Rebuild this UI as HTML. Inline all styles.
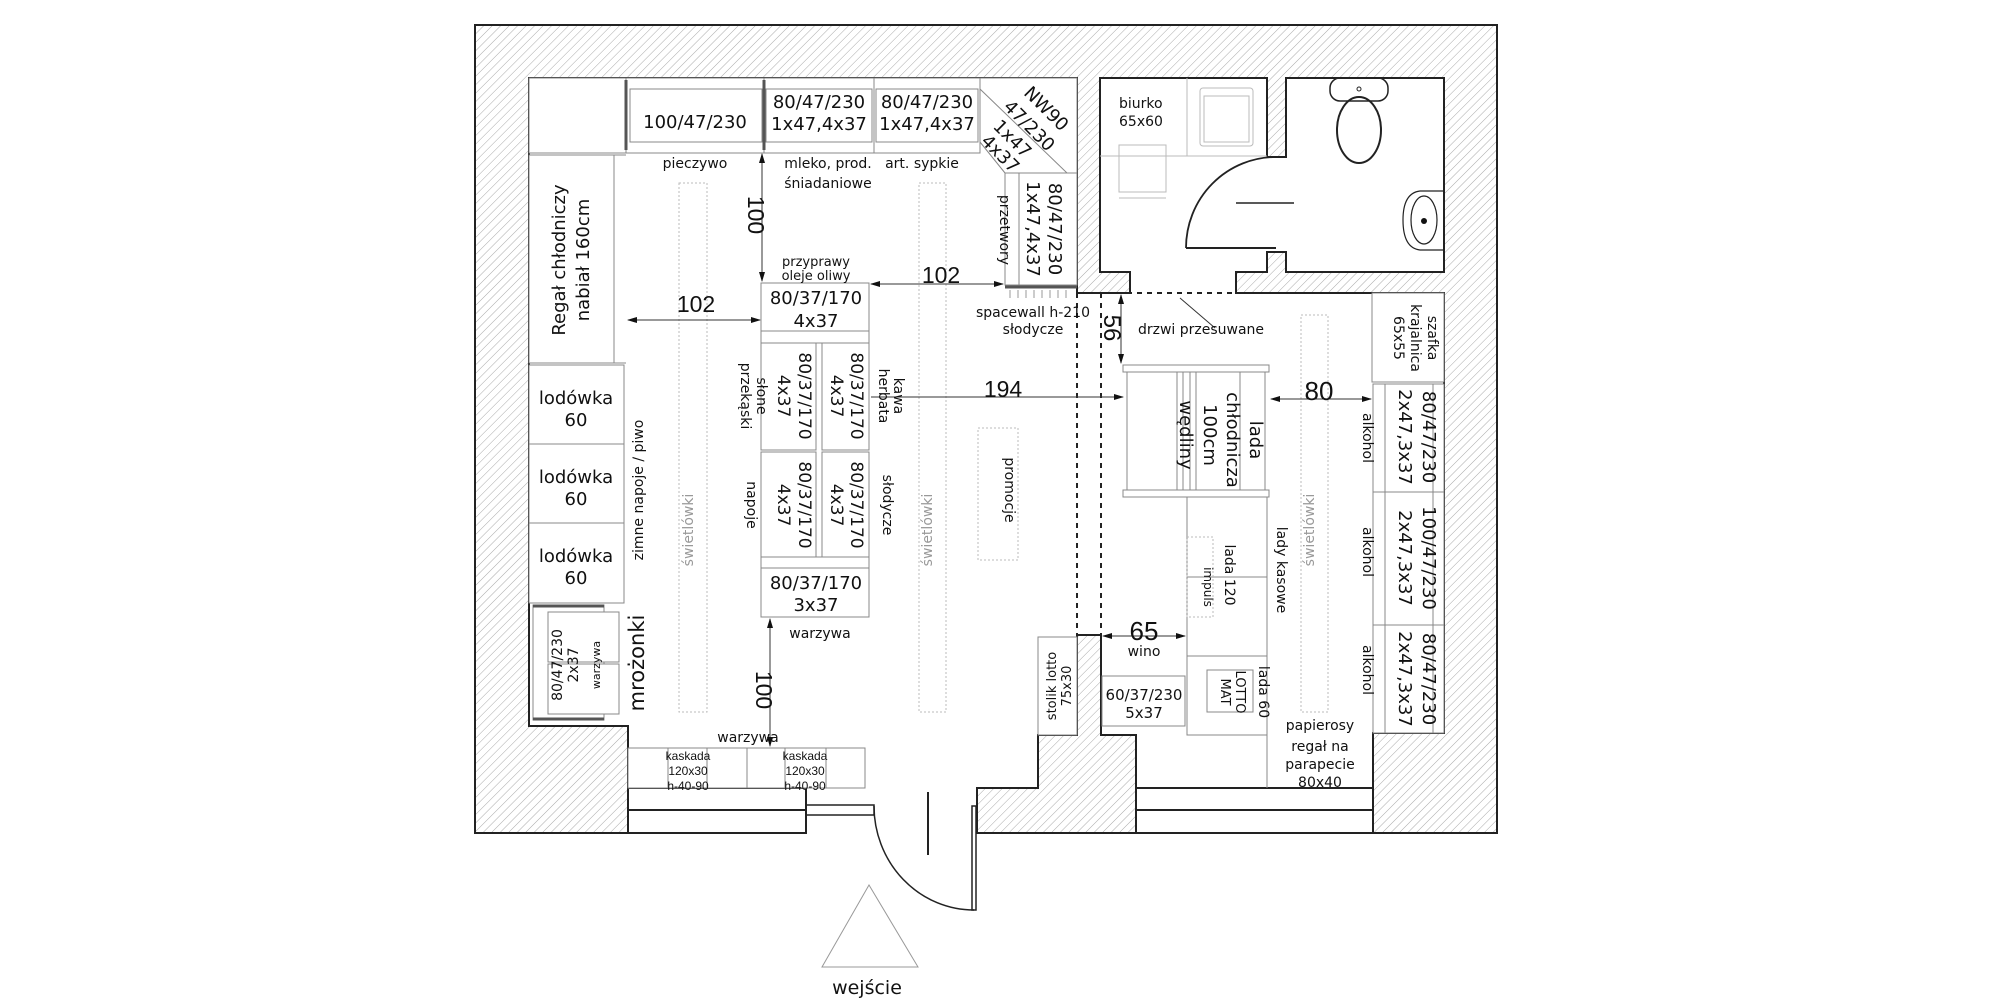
<!DOCTYPE html>
<html><head><meta charset="utf-8"><style>
html,body{margin:0;padding:0;background:#fff;}
svg{display:block;}
text{font-family:"DejaVu Sans","Liberation Sans",sans-serif;fill:#111;}
.d{font-family:"Liberation Sans",sans-serif;}
.g{fill:#999;}
</style></head><body>
<svg width="2000" height="1000" viewBox="0 0 2000 1000" xmlns="http://www.w3.org/2000/svg">
<defs>
<pattern id="h" width="6" height="6" patternUnits="userSpaceOnUse" patternTransform="rotate(45)">
<rect width="6" height="6" fill="#fff"/><line x1="0" y1="0" x2="0" y2="6" stroke="#aaa" stroke-width="1"/>
</pattern>
<marker id="a" markerWidth="10" markerHeight="6" refX="9" refY="3" orient="auto" markerUnits="userSpaceOnUse"><path d="M0,0 L10,3 L0,6 Z" fill="#111"/></marker>
<marker id="b" markerWidth="10" markerHeight="6" refX="1" refY="3" orient="auto" markerUnits="userSpaceOnUse"><path d="M10,0 L0,3 L10,6 Z" fill="#111"/></marker>
</defs>
<rect x="475" y="25" width="1022" height="808" fill="url(#h)" stroke="#222" stroke-width="2"/>
<path d="M529,78 L1077,78 L1077,293 L1130,293 L1130,272 L1100,272 L1100,78 L1267,78 L1267,157 L1286,157 L1286,78 L1444,78 L1444,272 L1286,272 L1286,252 L1267,252 L1267,272 L1236,272 L1236,293 L1444,293 L1444,733 L1373,733 L1373,833 L1136,833 L1136,735 L1101,735 L1101,635 L1077,635 L1077,735 L1038,735 L1038,788 L977,788 L977,833 L628,833 L628,726 L529,726 Z" fill="#fff" stroke="#222" stroke-width="2"/>
<rect x="807" y="786" width="169" height="60" fill="#fff"/>
<line x1="475" y1="833" x2="628" y2="833" stroke="#222" stroke-width="2"/>
<g stroke="#222" stroke-width="2" fill="none">
<line x1="628" y1="788" x2="806" y2="788"/><line x1="628" y1="810" x2="806" y2="810"/>
<line x1="1136" y1="788" x2="1373" y2="788"/><line x1="1136" y1="810" x2="1373" y2="810"/>
<line x1="806" y1="788" x2="806" y2="833"/>
<rect x="806" y="805" width="68" height="10" stroke-width="1.5"/>
<line x1="928" y1="792" x2="928" y2="855"/>
<rect x="972" y="806" width="4" height="104" stroke-width="1.5"/>
<path d="M874,806 A100,104 0 0 0 974,910" stroke-width="1.5"/>
<line x1="977" y1="788" x2="977" y2="833"/>
</g>
<polygon points="869,885 822,967 918,967" fill="none" stroke="#999" stroke-width="1"/>
<text x="867" y="994" font-size="19" text-anchor="middle">wejście</text>
<g stroke="#222" fill="none">
<path d="M1186,248 A90,91 0 0 1 1276,157" stroke-width="1.8"/>
<line x1="1186" y1="248" x2="1276" y2="248" stroke-width="2"/>
<line x1="1236" y1="203" x2="1294" y2="203" stroke-width="1.5"/>
<rect x="1330" y="78" width="58" height="23" rx="10" stroke-width="1.5"/>
<ellipse cx="1359" cy="130" rx="22" ry="33" stroke-width="2"/>
<circle cx="1359" cy="89" r="2"/>
<path d="M1444,191 L1420,191 Q1403,193 1403,220 Q1403,248 1420,250 L1444,250" stroke-width="1.2"/>
<ellipse cx="1424" cy="220" rx="13" ry="24" stroke-width="1.2"/>
</g>
<circle cx="1424" cy="221" r="3" fill="#111"/>
<g stroke="#bbb" fill="none" stroke-width="1">
<line x1="1187" y1="78" x2="1187" y2="156"/><line x1="1100" y1="156" x2="1267" y2="156"/>
<rect x="1200" y="88" width="53" height="58" rx="3"/><rect x="1204" y="96" width="45" height="46"/>
<rect x="1119" y="145" width="47" height="47"/><line x1="1119" y1="198" x2="1166" y2="198"/>
</g>
<text x="1119" y="108" font-size="14">biurko</text>
<text x="1119" y="126" font-size="14">65x60</text>
<g stroke="#222" stroke-width="2" stroke-dasharray="5,5" fill="none">
<line x1="1077" y1="293" x2="1236" y2="293"/>
<line x1="1077" y1="293" x2="1077" y2="635"/>
<line x1="1101" y1="293" x2="1101" y2="635"/>
</g>
<g stroke="#888" stroke-width="1" fill="#fff">
<rect x="529" y="78" width="97" height="75"/>
<rect x="626" y="78" width="138" height="75"/><rect x="630" y="89" width="132" height="53"/>
<rect x="764" y="78" width="110" height="75"/><rect x="766" y="89" width="106" height="53"/>
<rect x="874" y="78" width="106" height="75"/><rect x="876" y="89" width="102" height="53"/>
<path d="M980,78 L1077,78 L1077,173 L1067,173 L980,89 Z"/>
<line x1="980" y1="142" x2="1005" y2="173"/>
<rect x="1005" y="173" width="72" height="112"/><line x1="1019" y1="173" x2="1019" y2="285"/>
<rect x="529" y="155" width="85" height="208"/><line x1="614" y1="155" x2="626" y2="155"/><line x1="614" y1="363" x2="626" y2="363"/>
<rect x="529" y="365" width="95" height="79"/><rect x="529" y="444" width="95" height="79"/><rect x="529" y="523" width="95" height="80"/>
<rect x="533" y="605" width="71" height="115"/><rect x="548" y="612" width="71" height="50"/><rect x="548" y="664" width="71" height="50"/>
<rect x="761" y="283" width="108" height="48"/><rect x="761" y="331" width="108" height="12"/>
<rect x="761" y="343" width="55" height="107"/><rect x="822" y="343" width="47" height="107"/>
<rect x="761" y="452" width="55" height="105"/><rect x="822" y="452" width="47" height="105"/>
<rect x="761" y="557" width="108" height="11"/><rect x="761" y="568" width="108" height="49"/>
<rect x="628" y="748" width="119" height="40"/><rect x="747" y="748" width="118" height="40"/>
<line x1="668" y1="748" x2="668" y2="788"/><line x1="707" y1="748" x2="707" y2="788"/>
<line x1="785" y1="748" x2="785" y2="788"/><line x1="826" y1="748" x2="826" y2="788"/>
<rect x="1038" y="637" width="39" height="98"/>
<rect x="1123" y="365" width="146" height="7"/><rect x="1127" y="372" width="138" height="118"/><rect x="1123" y="490" width="146" height="7"/>
<line x1="1177" y1="372" x2="1177" y2="490"/><line x1="1183" y1="372" x2="1183" y2="490"/><line x1="1190" y1="372" x2="1190" y2="490"/><line x1="1196" y1="372" x2="1196" y2="490"/><line x1="1240" y1="372" x2="1240" y2="490"/>
<rect x="1372" y="293" width="72" height="89"/>
<rect x="1373" y="384" width="71" height="108"/><rect x="1373" y="492" width="71" height="133"/><rect x="1373" y="625" width="71" height="108"/>
<line x1="1385" y1="384" x2="1385" y2="733"/><line x1="1433" y1="384" x2="1433" y2="733"/>
<rect x="1187" y="497" width="80" height="238"/><line x1="1187" y1="577" x2="1267" y2="577"/><line x1="1187" y1="656" x2="1267" y2="656"/>
<rect x="1207" y="670" width="46" height="42"/>
<rect x="1102" y="676" width="83" height="50"/>
<line x1="1267" y1="735" x2="1267" y2="788"/>
</g>
<g stroke="#555" stroke-width="3"><line x1="626" y1="80" x2="626" y2="150"/><line x1="764" y1="80" x2="764" y2="150"/><line x1="1005" y1="287" x2="1077" y2="287"/><line x1="533" y1="606" x2="604" y2="606"/><line x1="533" y1="719" x2="604" y2="719"/></g>
<g stroke="#999" stroke-width="1"><path d="M1010,290v8M1018,290v8M1026,290v8M1034,290v8M1042,290v8M1050,290v8M1058,290v8M1066,290v8"/></g>
<g stroke="#bbb" stroke-width="1" stroke-dasharray="2,2" fill="none">
<rect x="679" y="183" width="28" height="529"/><rect x="919" y="183" width="27" height="529"/>
<rect x="978" y="428" width="40" height="132"/><rect x="1301" y="315" width="27" height="397"/>
<rect x="1187" y="537" width="26" height="80"/>
</g>
<g stroke="#333" stroke-width="1">
<line x1="762" y1="154" x2="762" y2="281" marker-start="url(#b)" marker-end="url(#a)"/>
<line x1="628" y1="320" x2="760" y2="320" marker-start="url(#b)" marker-end="url(#a)"/>
<line x1="871" y1="284" x2="1003" y2="284" marker-start="url(#b)" marker-end="url(#a)"/>
<line x1="871" y1="397" x2="1123" y2="397" marker-end="url(#a)"/>
<line x1="770" y1="619" x2="770" y2="746" marker-start="url(#b)" marker-end="url(#a)"/>
<line x1="1121" y1="295" x2="1121" y2="363" marker-start="url(#b)" marker-end="url(#a)"/>
<line x1="1271" y1="399" x2="1371" y2="399" marker-start="url(#b)" marker-end="url(#a)"/>
<line x1="1103" y1="636" x2="1185" y2="636" marker-start="url(#b)" marker-end="url(#a)"/>
<line x1="1180" y1="298" x2="1215" y2="328"/>
</g>
<g class="d" font-size="23">
<text class="d" x="696" y="312" text-anchor="middle">102</text>
<text class="d" x="941" y="283" text-anchor="middle">102</text>
<text class="d" x="1003" y="397" text-anchor="middle">194</text>
<text class="d" x="1319" y="400" text-anchor="middle" font-size="26">80</text>
<text class="d" x="1144" y="640" text-anchor="middle" font-size="26">65</text>
<text class="d" transform="translate(748,215) rotate(90)" text-anchor="middle">100</text>
<text class="d" transform="translate(756,690) rotate(90)" text-anchor="middle">100</text>
<text class="d" transform="translate(1104,328) rotate(90)" text-anchor="middle" font-size="24">56</text>
</g>
<g font-size="18" text-anchor="middle">
<text x="695" y="128">100/47/230</text>
<text x="819" y="108">80/47/230</text><text x="819" y="130">1x47,4x37</text>
<text x="927" y="108">80/47/230</text><text x="927" y="130">1x47,4x37</text>
<text transform="translate(1042,113) rotate(45)">NW90</text>
<text transform="translate(1025,130) rotate(45)">47/230</text>
<text transform="translate(1008,143) rotate(45)">1x47</text>
<text transform="translate(996,158) rotate(45)">4x37</text>
<text transform="translate(1049,229) rotate(90)">80/47/230</text>
<text transform="translate(1027,229) rotate(90)">1x47,4x37</text>
<text transform="translate(565,260) rotate(-90)">Regał chłodniczy</text>
<text transform="translate(589,260) rotate(-90)">nabiał 160cm</text>
<text x="576" y="404">lodówka</text><text x="576" y="426">60</text>
<text x="576" y="483">lodówka</text><text x="576" y="505">60</text>
<text x="576" y="562">lodówka</text><text x="576" y="584">60</text>
<text transform="translate(644,663) rotate(-90)" font-size="21">mrożonki</text>
<text x="816" y="304">80/37/170</text><text x="816" y="327">4x37</text>
<g font-size="17">
<text transform="translate(799,396) rotate(90)">80/37/170</text><text transform="translate(778,396) rotate(90)">4x37</text>
<text transform="translate(851,396) rotate(90)">80/37/170</text><text transform="translate(831,396) rotate(90)">4x37</text>
<text transform="translate(799,505) rotate(90)">80/37/170</text><text transform="translate(778,505) rotate(90)">4x37</text>
<text transform="translate(851,505) rotate(90)">80/37/170</text><text transform="translate(831,505) rotate(90)">4x37</text>
</g>
<text x="816" y="589">80/37/170</text><text x="816" y="611">3x37</text>
<text transform="translate(1250,440) rotate(90)">lada</text>
<text transform="translate(1227,440) rotate(90)">chłodnicza</text>
<text transform="translate(1204,435) rotate(90)">100cm</text>
<text transform="translate(1180,435) rotate(90)">wędliny</text>
<text transform="translate(1423,437) rotate(90)">80/47/230</text><text transform="translate(1399,437) rotate(90)">2x47,3x37</text>
<text transform="translate(1423,558) rotate(90)">100/47/230</text><text transform="translate(1399,558) rotate(90)">2x47,3x37</text>
<text transform="translate(1423,679) rotate(90)">80/47/230</text><text transform="translate(1399,679) rotate(90)">2x47,3x37</text>
</g>
<g font-size="14" text-anchor="middle">
<text x="695" y="168">pieczywo</text>
<text x="828" y="168">mleko, prod.</text><text x="828" y="188">śniadaniowe</text>
<text x="922" y="168">art. sypkie</text>
<text transform="translate(1000,230) rotate(90)">przetwory</text>
<text transform="translate(643,490) rotate(-90)">zimne napoje / piwo</text>
<text x="816" y="266" font-size="13">przyprawy</text><text x="816" y="280" font-size="13">oleje oliwy</text>
<text transform="translate(757,396) rotate(90)">słone</text><text transform="translate(741,396) rotate(90)">przekąski</text>
<text transform="translate(894,396) rotate(90)">kawa</text><text transform="translate(879,396) rotate(90)">herbata</text>
<text transform="translate(747,505) rotate(90)">napoje</text>
<text transform="translate(883,505) rotate(90)">słodycze</text>
<text x="820" y="638">warzywa</text>
<text x="748" y="742">warzywa</text>
<text x="1033" y="317">spacewall h-210</text><text x="1033" y="334">słodycze</text>
<text x="1201" y="334">drzwi przesuwane</text>
<text transform="translate(1005,490) rotate(90)">promocje</text>
<text transform="translate(1363,438) rotate(90)">alkohol</text>
<text transform="translate(1363,552) rotate(90)">alkohol</text>
<text transform="translate(1363,670) rotate(90)">alkohol</text>
<text transform="translate(1428,338) rotate(90)">szafka</text>
<text transform="translate(1411,338) rotate(90)">krajalnica</text>
<text transform="translate(1394,338) rotate(90)">65x55</text>
<text transform="translate(1277,570) rotate(90)">lady kasowe</text>
<text transform="translate(1225,575) rotate(90)">lada 120</text>
<text transform="translate(1204,587) rotate(90)" font-size="12">impuls</text>
<text transform="translate(1259,692) rotate(90)">lada 60</text>
<text transform="translate(1236,692) rotate(90)" font-size="13">LOTTO</text>
<text transform="translate(1221,692) rotate(90)" font-size="13">MAT</text>
<text x="1144" y="656">wino</text>
<text x="1144" y="700" font-size="15">60/37/230</text><text x="1144" y="718" font-size="15">5x37</text>
<text x="1320" y="730">papierosy</text>
<text x="1320" y="751">regał na</text><text x="1320" y="769">parapecie</text><text x="1320" y="787">80x40</text>
<text transform="translate(1056,686) rotate(-90)" font-size="13">stolik lotto</text>
<text transform="translate(1071,686) rotate(-90)" font-size="13">75x30</text>
<text transform="translate(562,665) rotate(-90)">80/47/230</text>
<text transform="translate(578,665) rotate(-90)">2x37</text>
<text transform="translate(600,665) rotate(-90)" font-size="11">warzywa</text>
<text x="688" y="760" font-size="12" class="d">kaskada</text><text x="688" y="775" font-size="12" class="d">120x30</text><text x="688" y="790" font-size="12" class="d">h-40-90</text>
<text x="805" y="760" font-size="12" class="d">kaskada</text><text x="805" y="775" font-size="12" class="d">120x30</text><text x="805" y="790" font-size="12" class="d">h-40-90</text>
</g>
<g font-size="14" text-anchor="middle" class="g">
<text class="g" transform="translate(693,530) rotate(-90)">świetlówki</text>
<text class="g" transform="translate(932,530) rotate(-90)">świetlówki</text>
<text class="g" transform="translate(1314,530) rotate(-90)">świetlówki</text>
</g>
</svg>
</body></html>
